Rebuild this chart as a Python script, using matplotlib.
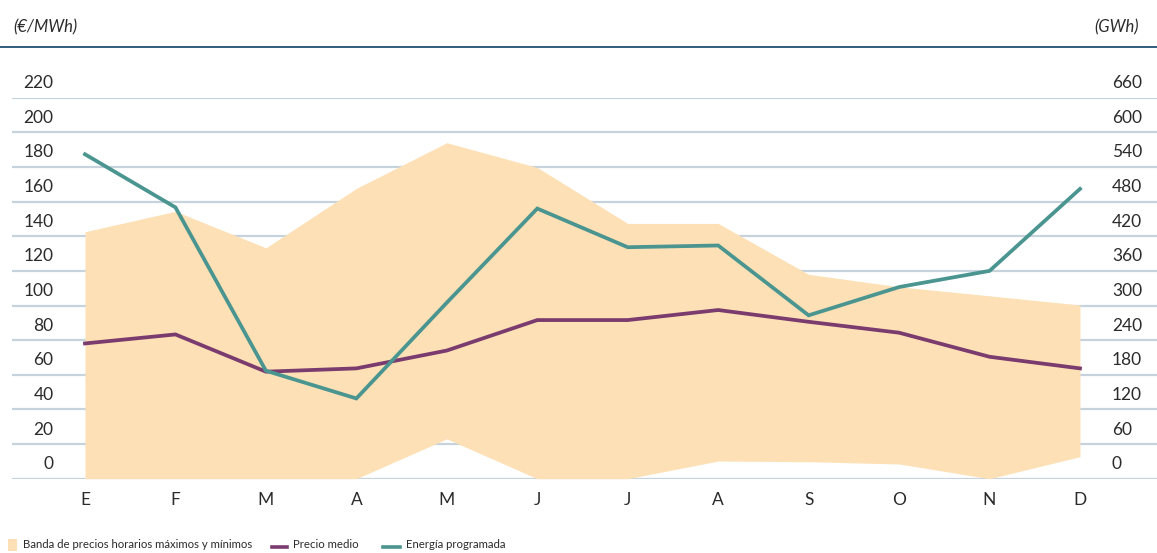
import matplotlib
matplotlib.use("Agg")
import matplotlib.pyplot as plt
import matplotlib.transforms as mtransforms
from matplotlib.lines import Line2D
from matplotlib.patches import Rectangle

# ---- data ----
months = ["E", "F", "M", "A", "M", "J", "J", "A", "S", "O", "N", "D"]
precio_max = [142.6, 154.4, 133.3, 167.6, 194.0, 179.7, 147.4, 147.4, 118.0, 110.8, 105.6, 100.3]
precio_min = [0, 0, 0, 0, 23, 0, 0, 10.2, 9.8, 8.5, 0, 12.7]
precio_medio = [78.1, 83.3, 61.8, 63.7, 74.0, 91.6, 91.6, 97.4, 90.6, 84.3, 70.4, 63.7]
energia_gwh = [562, 470, 187, 139, 305, 468, 401, 404, 283, 332, 360, 502]
left_ticks = [0, 20, 40, 60, 80, 100, 120, 140, 160, 180, 200, 220]
right_ticks = [0, 60, 120, 180, 240, 300, 360, 420, 480, 540, 600, 660]

BAND = "#fde0b5"
PURPLE = "#7a3b6e"
TEAL = "#4b9591"
GRID = "#c6d2dc"
TEXT = "#2b2b2b"
TOPLINE = "#1f4e70"

plt.rcParams['font.family'] = ['Lato', 'DejaVu Sans']

W, H = 1157, 553
fig = plt.figure(figsize=(W / 100, H / 100), dpi=100)

y0_px, y220_px = 478.7, 97.7
ax_left_px, ax_right_px = 12, 1157
xE_px, xD_px = 85, 1080
step = (xD_px - xE_px) / 11.0
ax = fig.add_axes([ax_left_px / W, 1 - y0_px / H,
                   (ax_right_px - ax_left_px) / W, (y0_px - y220_px) / H])
ax.set_xlim(-(xE_px - ax_left_px) / step, 11 + (ax_right_px - xD_px) / step)
ax.set_ylim(0, 220)
ax2 = ax.twinx()
ax2.set_ylim(0, 660)

for a in (ax, ax2):
    for s in a.spines.values():
        s.set_visible(False)
    a.set_yticks([])
ax.set_xticks([])

x = list(range(len(months)))

# grid lines
for t in left_ticks:
    ax.axhline(t, color=GRID, lw=1.6, zorder=0)

ax.fill_between(x, precio_min, precio_max, color=BAND, lw=0, zorder=1)
ax.plot(x, precio_medio, color=PURPLE, lw=2.7, zorder=3, solid_joinstyle='miter')
ax2.plot(x, energia_gwh, color=TEAL, lw=2.7, zorder=4, solid_joinstyle='miter')
ax2.set_zorder(ax.get_zorder() + 1)
ax2.patch.set_visible(False)

# y tick labels (above gridlines)
fs = 12.5
trL = mtransforms.blended_transform_factory(fig.transFigure, ax.transData)
trL = mtransforms.offset_copy(trL, fig=fig, x=0, y=14.5, units='dots')
for t in left_ticks:
    ax.text(53.5 / W, t, str(t), transform=trL, ha='right', va='center',
            fontsize=fs, color=TEXT)
trR = mtransforms.blended_transform_factory(fig.transFigure, ax2.transData)
trR = mtransforms.offset_copy(trR, fig=fig, x=0, y=14.5, units='dots')
for t in right_ticks:
    ax2.text(1112 / W, t, str(t), transform=trR, ha='left', va='center',
             fontsize=fs, color=TEXT)

# month labels
trX = mtransforms.blended_transform_factory(ax.transData, fig.transFigure)
for i, m in enumerate(months):
    ax.text(i, 1 - 500 / H, m, transform=trX, ha='center', va='center',
            fontsize=fs, color=TEXT)

# units and top rule
fig.text(13 / W, 1 - 27 / H, "(€/MWh)", ha='left', va='center', fontsize=12,
         style='italic', color=TEXT)
fig.text(1139 / W, 1 - 27 / H, "(GWh)", ha='right', va='center', fontsize=12,
         style='italic', color=TEXT)
fig.add_artist(Line2D([0, 1], [1 - 46.5 / H] * 2, color=TOPLINE, lw=1.3,
                      transform=fig.transFigure))

# legend
ly = 1 - 545 / H
lfs = 8.2
fig.add_artist(Rectangle((8 / W, 1 - 551 / H), 9 / W, 12 / H, color=BAND,
                         transform=fig.transFigure, lw=0))
fig.text(23 / W, ly, "Banda de precios horarios máximos y mínimos", ha='left',
         va='center', fontsize=lfs, color=TEXT)
fig.add_artist(Line2D([272 / W, 287 / W], [1 - 547 / H] * 2, color=PURPLE, lw=2.6,
                      transform=fig.transFigure))
fig.text(293 / W, ly, "Precio medio", ha='left', va='center', fontsize=lfs,
         color=TEXT)
fig.add_artist(Line2D([383 / W, 400 / W], [1 - 547 / H] * 2, color=TEAL, lw=2.6,
                      transform=fig.transFigure))
fig.text(406 / W, ly, "Energía programada", ha='left', va='center', fontsize=lfs,
         color=TEXT)

fig.savefig("out.png", dpi=100)
